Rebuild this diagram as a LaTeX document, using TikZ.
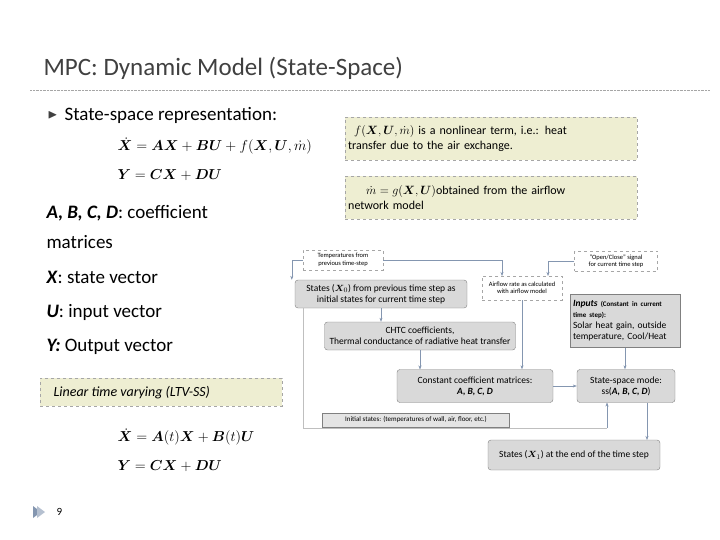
\documentclass[tikz,border=0pt]{standalone}
\usepackage{amsmath,amssymb,bm}
\usepackage{fontspec}
\setmainfont{Carlito}
\usetikzlibrary{arrows.meta}
\definecolor{boxg}{HTML}{D9D9D9}
\definecolor{bord}{HTML}{808080}
\definecolor{arr}{HTML}{8496B0}
\definecolor{yel}{HTML}{EEEED2}
\definecolor{titl}{HTML}{404040}
\tikzset{
 gbox/.style={draw=bord,fill=boxg,rounded corners=3pt,align=center,font=\fontsize{9.5}{11}\selectfont,inner sep=2pt},
 dbox/.style={draw=bord!70,dashed,fill=white,align=center,font=\fontsize{6.5}{7.5}\selectfont,inner sep=2pt},
 ar/.style={draw=arr,-{Stealth[length=4pt]}},
 ln/.style={draw=arr},
 ybox/.style={draw=bord!70,dashed,fill=yel,inner sep=3pt},
 body/.style={anchor=west,font=\fontsize{19}{21}\selectfont,text=black},
 eq/.style={anchor=west,font=\fontsize{14.5}{16}\selectfont}
}
\begin{document}
\begin{tikzpicture}[x=1pt,y=-1pt]
\useasboundingbox (0,0) rectangle (720,540);
\node[anchor=west,text=titl,font=\fontsize{25}{28}\selectfont] (title) at (40,68) {MPC: Dynamic Model (State-Space)};
\draw[bord!70,densely dotted] (30,90) -- (710,90);
\node[anchor=west,font=\fontsize{13}{14}\selectfont,text=titl] (bul) at (44,115) {$\blacktriangleright$};
\node[body] (ssr) at (61,115) {State-space representation:};
\node[eq] (e1) at (114,146) {$\dot{\bm X}=\bm{AX}+\bm{BU}+f(\bm X,\bm U,\dot m)$};
\node[eq] (e2) at (114,175) {$\bm Y=\bm{CX}+\bm{DU}$};
\node[body] (t1) at (43,213) {\textbf{\textit{A, B, C, D}}: coefficient};
\node[body] (t2) at (43,242) {matrices};
\node[body] (t3) at (43,277) {\textbf{\textit{X}}: state vector};
\node[body] (t4) at (43,312) {\textbf{\textit{U}}: input vector};
\node[body] (t5) at (43,347) {\textbf{\textit{Y:}} Output vector};
\node[ybox,minimum width=242pt,minimum height=28pt,anchor=north west] (ltv) at (40,378) {};
\node[anchor=west,font=\fontsize{14}{16}\selectfont\itshape] (ltvt) at (50,393) {Linear time varying (LTV-SS)};
\node[eq] (e3) at (114,437) {$\dot{\bm X}=\bm A(t)\bm X+\bm B(t)\bm U$};
\node[eq] (e4) at (114,466) {$\bm Y=\bm{CX}+\bm{DU}$};
\fill[arr] (33,506)--(41,512)--(33,518)--cycle;
\fill[arr!60] (37,506)--(45,512)--(37,518)--cycle;
\node[anchor=west,font=\fontsize{11}{12}\selectfont] (pg) at (53,512) {9};
% yellow boxes
\node[ybox,anchor=north west,text width=286pt,minimum height=43pt,align=left,font=\fontsize{12}{15}\selectfont] (y1) at (345,117) {\hspace*{6pt}{\large$f(\bm X,\bm U,\dot m)$} is a nonlinear term, i.e.: heat\\transfer due to the air exchange.};
\node[ybox,anchor=north west,text width=286pt,minimum height=43pt,align=left,font=\fontsize{12}{15}\selectfont] (y2) at (345,176) {\hspace*{18pt}{\large$\dot m=g(\bm X,\bm U)$}obtained from the airflow\\network model};
% flow chart
\node[dbox,minimum width=80pt,minimum height=20pt] (tp) at (343,260) {Temperatures from\\previous time-step};
\node[dbox,minimum width=83pt,minimum height=20pt] (oc) at (616,261) {"Open/Close" signal\\for current time step};
\node[dbox,minimum width=80pt,minimum height=24pt] (af) at (522,288) {Airflow rate as calculated\\with airflow model};
\node[gbox,minimum width=172pt,minimum height=28pt] (s0) at (381,294) {States ($\bm X_0$) from previous time step as\\initial states for current time step};
\node[gbox,minimum width=110pt,minimum height=53pt,align=left,text width=104pt,rounded corners=0pt] (in) at (625,321) {\textbf{\textit{Inputs} {\fontsize{7}{8.5}\selectfont(Constant in current time step):}}\\Solar heat gain, outside temperature, Cool/Heat};
\node[gbox,minimum width=191pt,minimum height=28pt] (ch) at (420,336) {CHTC coefficients,\\Thermal conductance of radiative heat transfer};
\node[gbox,minimum width=156pt,minimum height=33pt] (cc) at (475,386) {Constant coefficient matrices:\\\textbf{\textit{A, B, C, D}}};
\node[gbox,minimum width=98pt,minimum height=33pt] (sm) at (626,386) {State-space mode:\\ss(\textbf{\textit{A, B, C, D}})};
\node[gbox,fill=boxg!70,rounded corners=0pt,minimum width=187pt,minimum height=14pt,font=\fontsize{7}{8}\selectfont] (is) at (416,420) {Initial states: (temperatures of wall, air, floor, etc.)};
\node[gbox,minimum width=172pt,minimum height=30pt] (s1) at (574,455) {States ($\bm X_1$) at the end of the time step};
% connectors
\coordinate (c1) at (303,428);
\coordinate (c2) at (607,428);
\coordinate (a1) at (502,276);
\coordinate (a2) at (548,276);
\draw[ar] (tp.west) -| ([xshift=-3pt]s0.north west);
\draw[ar] (tp.east) -| (a1);
\draw[ar] (oc.west) -| (a2);
\draw[ar] (s0.south) -- (s0.south|-ch.north);
\draw[ar] (af.south) -- (af.south|-cc.north);
\draw[ar] (420,350) -- (420,369.5);
\draw[ar] (cc.east) -- (sm.west);
\draw[ar] (in.south) -- (in.south|-sm.north);
\draw[ar] (647,402.5) -- (647,440);
\draw[ln,draw=bord!50] (303,308) -- (c1) -- (c2);
\draw[ar] (c2) -- (607,402.5);
\end{tikzpicture}
\end{document}
